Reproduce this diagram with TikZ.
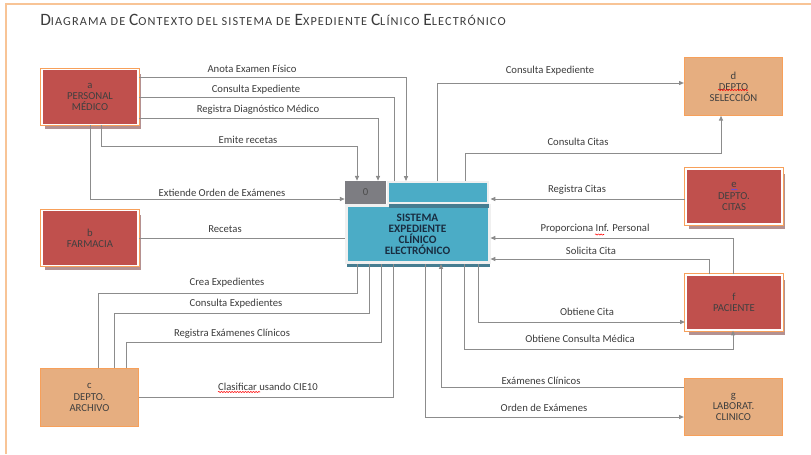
\documentclass[tikz,border=0pt]{standalone}
\usepackage{fontspec}
\setmainfont{Carlito}
\usetikzlibrary{arrows.meta,shadows,decorations.pathmorphing}

\definecolor{cred}{RGB}{192,80,77}
\definecolor{corange}{RGB}{247,160,90}
\definecolor{cpeach}{RGB}{230,174,128}
\definecolor{cblue}{RGB}{75,172,198}
\definecolor{cteal}{RGB}{70,125,145}
\definecolor{cgraybox}{RGB}{125,125,130}
\definecolor{cline}{RGB}{140,140,140}
\definecolor{cshade}{RGB}{180,145,145}
\definecolor{ctext}{RGB}{60,60,60}
\definecolor{csys}{RGB}{25,45,65}
\definecolor{cframe}{RGB}{248,196,150}

\newcommand\titlecap[2]{{\fontsize{13}{14}\selectfont #1}{\fontsize{9.2}{14}\selectfont #2}}

\tikzset{
  entred/.style={drop shadow={shadow xshift=2.2pt, shadow yshift=-3.6pt, fill=cshade, opacity=1},
    preaction={draw=corange, line width=2.6pt}, fill=cred, draw=white, line width=1.2pt,
    minimum width=72.4pt, minimum height=41pt, align=center,
    font=\fontsize{8}{8.3}\selectfont, text=black!75},
  entorange/.style={fill=cpeach, draw=corange, line width=0.9pt,
    minimum width=73.5pt, minimum height=43pt, align=center,
    font=\fontsize{8}{8.3}\selectfont, text=black!75},
  sysbox/.style={drop shadow={shadow xshift=1pt, shadow yshift=-3.5pt, fill=cteal, opacity=1},
    fill=cblue, draw=gray!12},
  flow/.style={draw=cline, line width=0.75pt},
  arr/.style={flow, -{Triangle[length=3.6pt,width=3pt]}},
  lbl/.style={font=\fontsize{8}{9}\selectfont, text=ctext, inner sep=0pt},
  spell/.style={decorate, decoration={snake, amplitude=0.45pt, segment length=2pt}, line width=0.4pt}
}

\begin{document}
\begin{tikzpicture}[x=0.75pt,y=0.75pt,yscale=-1,xscale=1]
\useasboundingbox (0,0) rectangle (811,454);

% page frame
\draw [cframe, line width=1.2pt] (6,454) -- (6,4) -- (811,4);

% title
\node (title) [anchor=west, inner sep=0pt, text=ctext] at (40,20)
  {\addfontfeature{LetterSpace=9}\titlecap{D}{IAGRAMA DE }\titlecap{C}{ONTEXTO DEL SISTEMA DE }\titlecap{E}{XPEDIENTE }\titlecap{C}{LÍNICO }\titlecap{E}{LECTRÓNICO}};

% external entities
\node (pm) [entred] at (90,97) {a\\PERSONAL\\MÉDICO};
\node (fa) [entred] at (90,238) {b\\FARMACIA};
\node (ar) [entorange] at (89.5,397.5) {c\\DEPTO.\\ARCHIVO};
\node (se) [entorange] at (733.5,86.5) {d\\DEPTO\\SELECCIÓN};
\node (ci) [entred] at (734,196.5) {e\\DEPTO.\\CITAS};
\node (pa) [entred] at (734,302.5) {f\\PACIENTE};
\node (lab) [entorange] at (733.5,407) {g\\LABORAT.\\CLINICO};

% process
\node (sys) [sysbox, line width=2.25pt, minimum width=107.25pt, minimum height=42.75pt,
  align=center, text=csys, font=\fontsize{8.5}{8.25}\selectfont\bfseries] at (417.5,234)
  {SISTEMA\\EXPEDIENTE\\CLÍNICO\\ELECTRÓNICO};
\node (syshead) [sysbox, line width=1.5pt, minimum width=75pt, minimum height=15.75pt] at (438,192.5) {};
\node (sysid) [fill=cgraybox, minimum width=30.75pt, minimum height=17.25pt, inner sep=0pt,
  text=black!70, font=\fontsize{8}{9}\selectfont] at (365.5,192.5) {0};

% flows from personal medico
\draw [arr] (pm.east |- 0,77) -| (syshead.north -| 406,0);
\draw [flow] (pm.east |- 0,97) -| (syshead.north -| 394,0);
\draw [arr] (pm.east |- 0,118) -| (sysid.north -| 378,0);
\draw [arr] (pm.south -| 101,0) |- (357,146) -- (sysid.north -| 357,0);
\draw [arr] (pm.south -| 90,0) |- (sysid.west |- 0,199);
\draw [flow] (fa.east |- 0,238) -- (sys.west |- 0,238);

% flows with archivo
\draw [flow] (sys.south -| 357,0) |- (98,293) -- (ar.north -| 98,0);
\draw [flow] (sys.south -| 369,0) |- (114,313) -- (ar.north -| 114,0);
\draw [flow] (sys.south -| 381,0) |- (126,342) -- (ar.north -| 126,0);
\draw [flow] (ar.east |- 0,397) -| (sys.south -| 393,0);

% flows on the right
\draw [arr] (syshead.north -| 437,0) |- (se.west |- 0,83);
\draw [arr] (syshead.north -| 465,0) |- (721,153) -- (se.south -| 721,0);
\draw [arr] (ci.west |- 0,199) -- (sys.east |- 0,199);
\draw [arr] (pa.north -| 733,0) |- (sys.east |- 0,238);
\draw [arr] (pa.north -| 709,0) |- (sys.east |- 0,259);
\draw [arr] (sys.south -| 478,0) |- (pa.west |- 0,322);
\draw [arr] (sys.south -| 464,0) |- (733,349) -- (pa.south -| 733,0);
\draw [arr] (lab.west |- 0,387) -| (sys.south -| 441,0);
\draw [arr] (sys.south -| 425,0) |- (lab.west |- 0,417);

% flow labels
\node (lanota) [lbl] at (252,69) {Anota Examen Físico};
\node (lconsexp) [lbl] at (256,90) {Consulta Expediente};
\node (lregdiag) [lbl] at (258,110) {Registra Diagnóstico Médico};
\node (lemite) [lbl] at (248,140) {Emite recetas};
\node (lorden) [lbl] at (222,193) {Extiende Orden de Exámenes};
\node (lrecetas) [lbl] at (225,229) {Recetas};
\node (lcrea) [lbl] at (227,283) {Crea Expedientes};
\node (lconsexps) [lbl] at (236,304) {Consulta Expedientes};
\node (lregexam) [lbl] at (232,334) {Registra Exámenes Clínicos};
\node (lclasif) [lbl] at (268,387) {Clasificar usando CIE10};
\node (lconsexpd) [lbl] at (550,71) {Consulta Expediente};
\node (lconscitas) [lbl] at (578,142) {Consulta Citas};
\node (lregcitas) [lbl] at (577,190) {Registra Citas};
\node (lpropinf) [lbl] at (595,229) {Proporciona Inf. Personal};
\node (lsolcita) [lbl] at (591,251) {Solicita Cita};
\node (lobtcita) [lbl] at (587,312) {Obtiene Cita};
\node (lobtcons) [lbl] at (580,339) {Obtiene Consulta Médica};
\node (lexamcli) [lbl] at (541,381) {Exámenes Clínicos};
\node (lordenex) [lbl] at (544,408) {Orden de Exámenes};

% spelling marks
\draw [spell, red] (718,90) -- (748,90);
\draw [spell, red] (595,234.5) -- (604,234.5);
\draw [spell, red] (218,392) -- (260,392);
\draw [spell, blue!70] (731,189.5) -- (737,189.5);

\end{tikzpicture}
\end{document}
